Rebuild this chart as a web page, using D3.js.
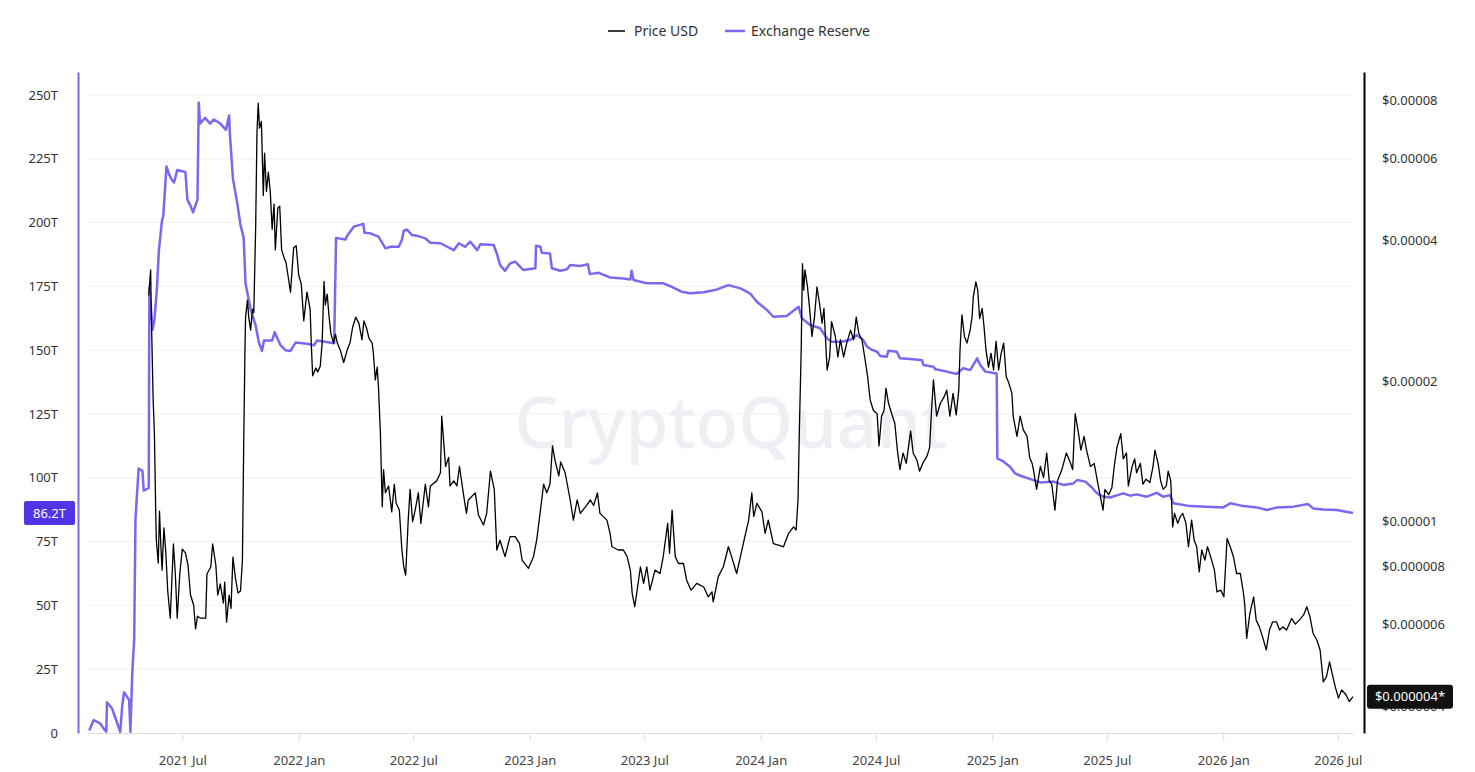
<!DOCTYPE html>
<html>
<head>
<meta charset="utf-8">
<script src="https://cdn.jsdelivr.net/npm/d3@7"></script>
<style>
  body { margin: 0; background: #fff; }
  svg { display: block; font-family: "Noto Sans", "Open Sans", sans-serif; }
</style>
</head>
<body>
<div id="chart"></div>
<script>
/* Data: day = days counted from 2021-01-01 (UTC) */
var seriesNames = ["Price USD", "Exchange Reserve"];

// Exchange reserve, in trillions of tokens
var reserveT = [
  [34,1.0],[41,5.1],[51,3.8],[59,1.0],[61,0.5],[62,12.0],[70,9.6],[83,0.5],[86,10.4],[89,16.0],[97,12.9],[99,0.5],
  [102,23.6],[105,36.8],[107,83.8],[112,103.6],[118,102.7],[120,95.0],[128,96.0],[129,174.5],[134,158.0],[137,162.0],
  [141,174.5],[144,189.0],[149,201.0],[151,202.5],[156,222.0],[160,219.0],[164,217.0],[168,215.7],[173,220.6],[186,219.8],
  [189,209.0],[194,206.6],[198,204.0],[205,209.0],[207,247.0],[209,238.8],[217,241.0],[225,238.8],[231,240.4],[241,238.8],
  [250,236.3],[255,242.0],[256,235.5],[261,217.3],[268,207.4],[273,199.0],[278,194.0],[281,176.0],[289,166.0],[297,159.6],
  [302,153.0],[307,149.7],[310,153.8],[323,153.8],[327,157.0],[336,152.0],[344,150.0],[352,149.7],[360,153.0],[378,152.5],
  [389,151.9],[394,153.8],[421,152.7],[424,194.0],[439,193.4],[442,195.0],[452,198.4],[467,199.5],[469,196.0],[478,195.8],
  [491,194.5],[502,189.9],[510,190.5],[523,190.5],[528,193.2],[531,196.8],[536,197.3],[544,195.1],[554,194.7],[565,193.8],
  [573,192.1],[589,191.9],[610,189.2],[618,191.9],[628,190.5],[636,192.5],[647,189.2],[652,191.5],[673,191.2],[678,187.9],
  [683,183.4],[691,181.1],[699,184.0],[707,184.7],[720,181.4],[739,182.1],[740,190.9],[747,190.5],[749,188.2],[762,187.9],
  [765,182.1],[778,181.1],[789,181.7],[794,183.4],[810,183.0],[822,183.7],[825,179.8],[839,180.3],[857,178.5],[878,178.1],
  [889,177.7],[891,181.1],[894,177.5],[915,176.2],[941,176.2],[952,175.1],[970,172.9],[984,172.3],[1005,172.7],[1026,173.8],
  [1044,175.5],[1063,174.2],[1078,172.3],[1089,169.0],[1105,165.7],[1115,163.1],[1136,163.4],[1155,167.0],[1160,162.5],
  [1173,159.9],[1189,158.6],[1200,154.6],[1207,153.3],[1223,153.3],[1236,154.0],[1247,155.9],[1257,154.0],[1263,151.4],
  [1271,150.1],[1279,149.4],[1284,147.7],[1294,147.4],[1297,149.8],[1310,149.4],[1315,146.8],[1336,146.4],[1350,146.1],
  [1352,144.2],[1368,143.5],[1371,142.5],[1384,141.9],[1405,140.7],[1415,142.9],[1426,142.2],[1437,146.8],[1442,144.2],
  [1450,141.6],[1468,140.9],[1469,107.6],[1479,106.3],[1489,104.3],[1497,101.7],[1510,100.4],[1526,99.1],[1537,98.2],
  [1558,98.5],[1573,97.2],[1589,97.8],[1595,99.1],[1608,98.5],[1618,96.3],[1624,94.5],[1631,93.2],[1637,92.6],[1647,92.3],
  [1668,93.9],[1679,93.0],[1689,93.5],[1705,92.6],[1721,94.1],[1731,92.6],[1742,93.2],[1747,90.0],[1774,88.9],[1800,88.7],
  [1826,88.4],[1837,90.0],[1858,88.9],[1879,88.4],[1895,87.4],[1911,88.4],[1937,88.7],[1960,89.7],[1968,88.0],[1984,87.6],
  [2005,87.4],[2031,86.2]
];

// Price, in millionths of a USD
var priceMicroUsd = [
  [128,30.5],[131,34.6],[132,28.0],[134,20.9],[135,18.1],[136,16.7],[137,15.3],[139,10.5],[140,9.10],[143,8.13],[145,10.5],
  [147,8.93],[149,7.85],[152,9.67],[155,8.55],[158,7.08],[162,6.19],[167,8.93],[170,7.70],[173,6.19],[177,7.70],[181,8.71],
  [186,8.55],[190,8.05],[194,6.94],[199,6.60],[202,5.87],[205,6.25],[210,6.19],[218,6.19],[220,7.70],[226,7.97],[229,8.93],
  [234,8.05],[237,6.94],[241,7.33],[246,6.67],[248,7.40],[251,6.07],[255,6.94],[258,6.50],[261,8.37],[265,7.55],[269,7.01],
  [273,7.08],[276,8.21],[278,14.4],[280,23.2],[281,27.4],[284,29.8],[286,27.4],[289,25.7],[292,28.5],[294,28.0],[297,43.1],
  [299,68.3],[301,78.9],[303,69.7],[306,72.1],[309,50.0],[311,61.6],[314,51.0],[317,56.1],[320,51.0],[323,42.3],[326,47.9],
  [328,38.2],[332,47.0],[335,47.4],[338,38.2],[342,36.7],[345,35.8],[348,33.7],[352,31.0],[357,38.6],[361,39.0],[365,33.7],
  [369,32.3],[373,26.9],[378,31.0],[383,28.5],[385,23.7],[387,20.5],[392,21.3],[395,20.9],[399,21.5],[402,24.1],[405,32.7],
  [407,29.1],[410,30.7],[413,27.4],[416,25.2],[420,24.1],[423,25.2],[426,24.1],[431,23.2],[436,21.9],[442,23.4],[446,24.1],
  [450,26.0],[455,27.4],[460,26.6],[465,24.5],[468,26.9],[472,26.0],[476,24.7],[481,24.1],[483,22.9],[486,20.1],[489,21.4],
  [491,19.4],[494,15.5],[497,10.73],[499,12.9],[502,11.5],[507,11.9],[512,10.47],[516,12.0],[519,10.92],[524,10.56],
  [528,8.67],[531,7.98],[534,7.66],[538,10.05],[541,11.7],[545,9.97],[549,10.56],[554,11.5],[558,9.89],[565,12.0],
  [570,10.73],[573,11.9],[583,12.2],[589,12.7],[591,16.8],[597,13.1],[602,13.7],[604,11.9],[610,12.2],[615,11.9],[619,13.1],
  [625,11.5],[630,10.39],[633,11.1],[644,11.5],[649,10.31],[657,9.81],[662,10.39],[668,12.8],[674,11.7],[678,8.67],
  [683,9.10],[691,8.39],[699,9.26],[707,9.26],[714,8.95],[718,8.25],[728,7.92],[736,8.39],[741,9.10],[747,10.56],[752,12.0],
  [757,11.5],[762,12.0],[766,14.5],[770,13.5],[776,12.5],[779,13.4],[786,12.7],[794,11.1],[799,10.05],[805,11.1],[810,10.39],
  [818,10.73],[826,11.1],[831,10.8],[837,11.5],[841,10.39],[852,10.05],[857,9.41],[860,8.81],[870,8.67],[878,8.67],
  [884,8.39],[889,7.85],[892,6.99],[896,6.55],[899,6.99],[905,7.98],[910,7.35],[915,7.98],[920,7.11],[928,7.85],[936,7.72],
  [941,8.39],[948,9.89],[951,8.53],[955,10.56],[960,8.39],[965,8.11],[973,8.11],[978,7.47],[985,7.11],[994,7.35],
  [1005,7.22],[1012,6.88],[1018,7.05],[1020,6.71],[1028,7.60],[1036,7.98],[1044,8.81],[1049,8.39],[1057,7.72],[1063,8.39],
  [1070,9.26],[1076,10.05],[1081,11.5],[1084,10.22],[1089,10.92],[1097,10.47],[1102,9.41],[1107,10.05],[1115,8.95],
  [1123,8.88],[1131,8.81],[1139,9.41],[1147,9.72],[1151,9.57],[1154,11.1],[1156,15.4],[1159,23.3],[1161,35.7],[1163,31.3],
  [1165,34.6],[1169,31.8],[1172,28.9],[1176,24.9],[1180,27.4],[1184,31.8],[1188,29.3],[1192,26.6],[1195,28.6],[1200,21.1],
  [1204,22.5],[1207,26.8],[1213,24.9],[1217,22.5],[1221,24.5],[1226,22.5],[1231,24.1],[1237,25.7],[1242,24.5],[1246,27.4],
  [1250,25.3],[1255,24.5],[1260,22.2],[1264,20.4],[1268,18.2],[1273,17.3],[1279,17.0],[1282,14.5],[1286,16.8],[1290,17.3],
  [1293,19.3],[1297,17.9],[1302,17.0],[1307,16.2],[1311,14.2],[1315,12.9],[1320,14.0],[1325,13.3],[1332,15.6],[1336,14.0],
  [1342,13.5],[1346,12.8],[1351,13.3],[1358,13.8],[1362,14.4],[1365,17.3],[1368,20.1],[1373,16.8],[1379,17.9],[1385,18.5],
  [1389,19.1],[1394,16.8],[1399,18.8],[1404,16.9],[1408,19.1],[1410,23.3],[1413,27.7],[1417,24.9],[1421,24.1],[1426,25.7],
  [1429,27.4],[1431,30.3],[1435,32.6],[1438,31.3],[1441,27.2],[1445,28.6],[1448,26.1],[1451,23.3],[1455,21.4],[1459,22.9],
  [1463,21.1],[1467,24.3],[1471,21.1],[1475,22.9],[1479,24.1],[1483,20.4],[1487,19.8],[1492,18.8],[1494,16.8],[1500,15.2],
  [1505,16.8],[1510,15.7],[1516,15.2],[1520,13.7],[1524,13.3],[1526,12.9],[1531,11.7],[1537,13.1],[1542,12.4],[1547,14.0],
  [1551,12.2],[1555,12.0],[1560,10.56],[1564,12.2],[1571,12.9],[1578,14.0],[1583,13.5],[1588,12.9],[1592,17.0],[1597,15.5],
  [1601,14.2],[1606,15.2],[1610,14.2],[1616,13.1],[1622,13.3],[1629,11.8],[1636,10.56],[1639,11.7],[1645,11.4],[1650,11.8],
  [1654,13.2],[1658,14.4],[1664,15.4],[1668,13.6],[1673,14.0],[1676,11.9],[1682,13.1],[1686,13.6],[1689,12.7],[1695,13.3],
  [1699,12.0],[1704,12.3],[1710,12.1],[1715,13.1],[1718,14.2],[1723,13.3],[1727,12.2],[1731,11.7],[1736,11.9],[1739,12.8],
  [1743,12.2],[1746,9.72],[1749,10.39],[1754,9.89],[1758,10.22],[1762,10.39],[1767,9.89],[1771,8.81],[1776,10.05],
  [1780,9.10],[1784,8.81],[1788,7.78],[1792,8.67],[1797,8.25],[1801,8.81],[1806,8.39],[1812,7.85],[1816,7.05],[1822,7.11],
  [1827,6.88],[1832,9.18],[1837,8.81],[1842,8.39],[1847,7.72],[1853,7.72],[1858,6.99],[1860,6.60],[1863,5.60],[1868,6.34],
  [1874,6.88],[1878,6.13],[1883,5.93],[1888,5.65],[1894,5.29],[1899,5.84],[1904,6.08],[1910,6.08],[1915,5.84],[1920,5.93],
  [1926,5.84],[1934,6.18],[1940,6.01],[1946,6.13],[1953,6.29],[1958,6.55],[1963,6.23],[1968,5.74],[1974,5.55],[1979,5.29],
  [1984,4.52],[1989,4.63],[1994,4.99],[1998,4.71],[2003,4.41],[2008,4.17],[2013,4.34],[2020,4.24],[2025,4.10],[2031,4.20]
];

var leftTicks = [0, 25, 50, 75, 100, 125, 150, 175, 200, 225, 250];
var rightTicks = [0.00008, 0.00006, 0.00004, 0.00002, 0.00001, 0.000008, 0.000006, 0.000004];
var xTicks = ["2021-07-01", "2022-01-01", "2022-07-01", "2023-01-01", "2023-07-01", "2024-01-01",
              "2024-07-01", "2025-01-01", "2025-07-01", "2026-01-01", "2026-07-01"];
var xDomain = ["2021-02-02", "2026-07-25"];
var leftDomain = [0, 259];
var rightDomain = [0.00000351, 0.000092];

/* Layout */
var width = 1475, height = 772,
    plotLeft = 88, plotRight = 1353, plotTop = 72, plotBottom = 733,
    leftAxisX = 78, rightAxisX = 1364,
    reserveColor = "#7b68ee", labelPurple = "#5034e6",
    fontFamily = '"Noto Sans", "Open Sans", sans-serif';

var base = Date.UTC(2021, 0, 1);
function dayToDate(d) { return new Date(base + d * 864e5); }

var x = d3.scaleUtc()
    .domain(xDomain.map(function(s) { return new Date(s + "T00:00:00Z"); }))
    .range([plotLeft, plotRight]);

var yLeft = d3.scaleLinear().domain(leftDomain).range([plotBottom, plotTop]);
var yRight = d3.scaleLog().domain(rightDomain).range([plotBottom, plotTop]);

var svg = d3.select("#chart").append("svg")
    .attr("width", width)
    .attr("height", height);

/* Grid lines */
svg.append("g").selectAll("line")
    .data(leftTicks.filter(function(d) { return d > 0; }))
    .enter().append("line")
    .attr("x1", plotLeft).attr("x2", plotRight)
    .attr("y1", function(d) { return yLeft(d); })
    .attr("y2", function(d) { return yLeft(d); })
    .attr("stroke", "#f1f1f3")
    .attr("stroke-width", 1);

/* Watermark */
svg.append("text")
    .attr("x", 731).attr("y", 448)
    .attr("text-anchor", "middle")
    .attr("font-family", fontFamily)
    .attr("font-size", 70)
    .attr("font-weight", 500)
    .attr("fill", "#efeef5")
    .text("CryptoQuant");

/* X axis */
var xAxis = svg.append("g")
    .attr("transform", "translate(0," + plotBottom + ")")
    .call(d3.axisBottom(x)
        .tickValues(xTicks.map(function(s) { return new Date(s + "T00:00:00Z"); }))
        .tickFormat(d3.utcFormat("%Y %b"))
        .tickSizeInner(8).tickSizeOuter(0).tickPadding(15));
xAxis.select(".domain").attr("stroke", "#dcdcdc");
xAxis.selectAll(".tick line").attr("stroke", "#dcdcdc");
xAxis.selectAll(".tick text")
    .attr("font-family", fontFamily).attr("font-size", 13).attr("fill", "#444");

/* Left axis */
var leftAxis = svg.append("g")
    .attr("transform", "translate(" + leftAxisX + ",0)")
    .call(d3.axisLeft(yLeft)
        .tickValues(leftTicks)
        .tickFormat(function(d) { return d === 0 ? "0" : d + "T"; })
        .tickSize(0).tickPadding(20));
leftAxis.select(".domain").attr("stroke", reserveColor).attr("stroke-width", 2);
leftAxis.selectAll(".tick text")
    .attr("font-family", fontFamily).attr("font-size", 13).attr("fill", "#333");

/* Right axis */
var rightAxis = svg.append("g")
    .attr("transform", "translate(" + rightAxisX + ",0)")
    .call(d3.axisRight(yRight)
        .tickValues(rightTicks)
        .tickFormat(function(d) { return "$" + String(d); })
        .tickSize(0).tickPadding(18));
rightAxis.select(".domain").attr("stroke", "#000").attr("stroke-width", 2);
rightAxis.selectAll(".tick text")
    .attr("font-family", fontFamily).attr("font-size", 13).attr("fill", "#333");

/* Lines */
var reserveLine = d3.line()
    .x(function(d) { return x(dayToDate(d[0])); })
    .y(function(d) { return yLeft(d[1]); });

var priceLine = d3.line()
    .x(function(d) { return x(dayToDate(d[0])); })
    .y(function(d) { return yRight(d[1] * 1e-6); });

svg.append("path")
    .datum(reserveT)
    .attr("d", reserveLine)
    .attr("fill", "none")
    .attr("stroke", reserveColor)
    .attr("stroke-width", 2.5)
    .attr("stroke-linejoin", "round");

svg.append("path")
    .datum(priceMicroUsd)
    .attr("d", priceLine)
    .attr("fill", "none")
    .attr("stroke", "#000")
    .attr("stroke-width", 1.3)
    .attr("stroke-linejoin", "round");

/* Last value labels */
var lastReserve = reserveT[reserveT.length - 1][1];
var lastPrice = priceMicroUsd[priceMicroUsd.length - 1][1] * 1e-6;

var rLab = svg.append("g")
    .attr("transform", "translate(" + (leftAxisX - 3) + "," + yLeft(lastReserve) + ")");
rLab.append("rect")
    .attr("x", -51).attr("y", -12).attr("width", 51).attr("height", 24)
    .attr("rx", 2).attr("fill", labelPurple);
rLab.append("text")
    .attr("x", -25.5).attr("dy", "0.35em")
    .attr("text-anchor", "middle")
    .attr("font-family", fontFamily).attr("font-size", 13)
    .attr("fill", "#fff")
    .text(lastReserve.toFixed(1) + "T");

var pLab = svg.append("g")
    .attr("transform", "translate(" + (rightAxisX + 3) + "," + yRight(lastPrice) + ")");
pLab.append("rect")
    .attr("x", 0).attr("y", -12).attr("width", 86).attr("height", 24)
    .attr("rx", 3).attr("fill", "#111");
pLab.append("text")
    .attr("x", 43).attr("dy", "0.35em")
    .attr("text-anchor", "middle")
    .attr("font-family", fontFamily).attr("font-size", 13)
    .attr("fill", "#fff")
    .text("$" + lastPrice.toFixed(6) + "*");

/* Legend */
var legend = svg.append("g").attr("transform", "translate(0,31)");
var legendItems = [
    { name: seriesNames[0], color: "#000", x: 608, len: 17, w: 1.5, gap: 9 },
    { name: seriesNames[1], color: reserveColor, x: 725, len: 20, w: 2.5, gap: 6 }
];
legendItems.forEach(function(d) {
    legend.append("line")
        .attr("x1", d.x).attr("x2", d.x + d.len)
        .attr("y1", 0).attr("y2", 0)
        .attr("stroke", d.color).attr("stroke-width", d.w);
    legend.append("text")
        .attr("x", d.x + d.len + d.gap).attr("dy", "0.35em")
        .attr("font-family", fontFamily).attr("font-size", 14)
        .attr("fill", "#333")
        .text(d.name);
});
</script>
</body>
</html>
